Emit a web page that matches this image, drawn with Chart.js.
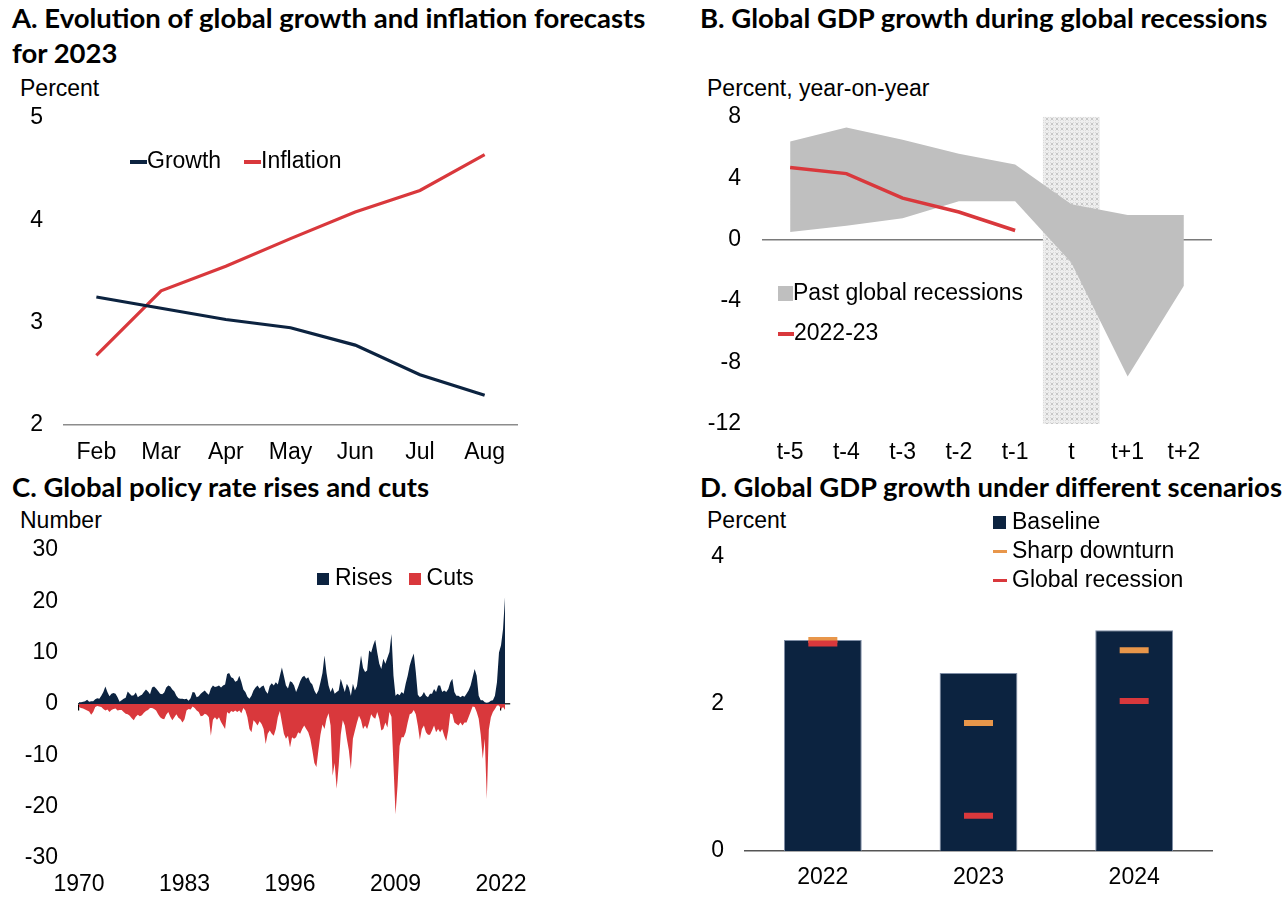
<!DOCTYPE html>
<html>
<head>
<meta charset="utf-8">
<script src="https://cdn.jsdelivr.net/npm/chart.js@4.4.1/dist/chart.umd.min.js"></script>
<style>
  body { margin: 0; width: 1288px; height: 904px; background: #fff; position: relative; overflow: hidden;
         font-family: "Liberation Sans", Arial, sans-serif; color: #000; }
  .title { position: absolute; font-family: Lato, "Open Sans", sans-serif; font-weight: bold; font-size: 27.5px; line-height: 35px; white-space: nowrap; }
  .unit { position: absolute; font-size: 23px; line-height: 24px; white-space: nowrap; }
  .legend { position: absolute; font-size: 23px; line-height: 24px; white-space: nowrap; }
  .sw { display: inline-block; vertical-align: middle; }
  canvas { position: absolute; }
</style>
</head>
<body>
<div class="title" style="left:12px; top:0px;">A. Evolution of global growth and inflation forecasts<br>for 2023</div>
<div class="title" style="left:700px; top:0px;">B. Global GDP growth during global recessions</div>
<div class="title" style="left:12px; top:469px;">C. Global policy rate rises and cuts</div>
<div class="title" style="left:700px; top:469px;">D. Global GDP growth under different scenarios</div>

<div class="unit" style="left:20px; top:76px;">Percent</div>
<div class="unit" style="left:707px; top:76px;">Percent, year-on-year</div>
<div class="unit" style="left:20px; top:508px;">Number</div>
<div class="unit" style="left:707px; top:508px;">Percent</div>

<canvas id="chartA" width="540" height="397" style="left:0px; top:83px;"></canvas>
<canvas id="chartB" width="545" height="398" style="left:680px; top:82px;"></canvas>
<canvas id="chartC" width="540" height="389" style="left:0px; top:515px;"></canvas>
<canvas id="chartD" width="545" height="382" style="left:680px; top:522px;"></canvas>

<!-- legends -->
<div class="legend" style="left:130px; top:148px;"><span class="sw" style="width:17px;height:4px;background:#0C2340;"></span>Growth</div>
<div class="legend" style="left:244px; top:148px;"><span class="sw" style="width:17px;height:4px;background:#D9383C;"></span>Inflation</div>

<div class="legend" style="left:778px; top:280px;"><span class="sw" style="width:15px;height:15px;background:#BFBFBF;"></span>Past global recessions</div>
<div class="legend" style="left:778px; top:320px;"><span class="sw" style="width:16px;height:4px;background:#D9383C;"></span>2022-23</div>

<div class="legend" style="left:317px; top:565px;"><span class="sw" style="width:12px;height:12px;background:#0C2340;margin-right:6px;"></span>Rises<span class="sw" style="width:12px;height:12px;background:#D9383C;margin:0 6px 0 16px;"></span>Cuts</div>

<div class="legend" style="left:993px; top:509px;"><span class="sw" style="width:13px;height:13px;background:#0C2340;margin-right:6px;"></span>Baseline</div>
<div class="legend" style="left:993px; top:538px;"><span class="sw" style="width:14px;height:3px;background:#E8964A;margin-right:5px;"></span>Sharp downturn</div>
<div class="legend" style="left:993px; top:567px;"><span class="sw" style="width:14px;height:3px;background:#D9383C;margin-right:5px;"></span>Global recession</div>

<script>
// ---- data ----
// A: forecasts for 2023, by month of forecast
const monthsA = ['Feb', 'Mar', 'Apr', 'May', 'Jun', 'Jul', 'Aug'];
const growthA = [3.25, 3.14, 3.03, 2.95, 2.78, 2.49, 2.29];
const inflationA = [2.68, 3.31, 3.55, 3.82, 4.08, 4.29, 4.64];

// B: global GDP growth around global recessions
const periodsB = ['t-5', 't-4', 't-3', 't-2', 't-1', 't', 't+1', 't+2'];
const pastHighB = [6.4, 7.3, 6.5, 5.6, 4.9, 2.3, 1.6, 1.6];
const pastLowB = [0.5, 0.9, 1.4, 2.5, 2.5, -1.5, -8.9, -3.0];
const recentB = [4.7, 4.3, 2.7, 1.8, 0.6, null, null, null];
const recessionYearB = [null, null, null, null, null, [-12, 8], null, null];

// C: number of policy rate rises and cuts, quarterly from 1970Q1
const startYearC = 1970;
const risesC = [
  0.3, 0.3, 0.4, 0.5,   0.8, 0.4, 0.5, 0.5,   0.9, 1.1, 1.0, 1.6,   2.3, 3.4, 2.3, 1.5,   // 1970-73
  2.0, 2.1, 2.0, 1.3,   0.4, 0.7, 1.0, 1.2,   2.4, 2.0, 1.6, 1.7,   2.2, 1.3, 1.6, 1.8,   // 1974-77
  2.3, 2.8, 2.4, 1.9,   3.2, 3.4, 3.0, 2.5,   2.0, 1.9, 2.2, 3.2,   3.6, 3.4, 2.8, 2.4,   // 1978-81
  1.6, 1.1, 1.0, 1.0,   0.9, 1.0, 0.6, 1.1,   2.3, 2.2, 1.3, 1.5,   2.0, 2.3, 2.6, 2.1,   // 1982-85
  1.8, 3.0, 3.6, 3.3,   3.4, 3.6, 3.2, 3.6,   3.8, 5.8, 6.0, 5.2,   5.0, 4.3, 4.5, 5.5,   // 1986-89
  4.3, 2.8, 2.3, 1.4,   1.0, 1.6, 2.6, 3.2,   3.6, 3.0, 3.4, 3.6,   2.5, 2.0, 3.5, 4.0,   // 1990-93
  3.6, 4.2, 3.8, 5.5,   7.1, 5.4, 3.6, 3.0,   4.4, 4.2, 3.6, 2.3,   3.3, 4.4, 5.2, 5.5,   // 1994-97
  4.9, 5.2, 4.2, 3.8,   2.6, 1.9, 2.6, 4.2,   6.0, 9.4, 6.0, 3.6,   2.3, 3.2, 2.0, 2.3,   // 1998-01
  2.6, 4.9, 3.6, 2.3,   3.9, 3.2, 1.6, 3.9,   2.6, 3.5, 6.5, 9.4,   7.0, 6.2, 6.5, 10.4,  // 2002-05
  10.0, 11.4, 12.5, 10.0, 7.8, 6.8, 8.8, 7.8, 9.0, 10.1, 13.6, 5.5, 1.6, 2.0, 1.7, 2.3,   // 2006-09
  2.0, 3.9, 5.5, 7.5,   8.8, 9.8, 6.2, 1.8,   1.3, 1.6, 2.3, 1.6,   1.3, 2.0, 2.0, 2.9,   // 2010-13
  2.3, 3.6, 3.6, 2.3,   2.6, 2.3, 2.9, 4.2,   4.9, 2.3, 1.6, 1.6,   1.3, 1.6, 1.4, 2.0,   // 2014-17
  2.6, 3.6, 5.2, 6.8,   5.5, 1.6, 0.7, 0.7,   0.3, 0.2, 0.3, 0.6,   0.7, 1.6, 4.2, 10.0,  // 2018-21
  11.4, 14.6, 21.0                                                                       // 2022
];
const cutsC = [
  -0.6, -0.8, -0.9, -1.1,  -1.3, -1.5, -2.1, -1.6,  -0.6, -0.4, -0.5, -0.6,  -1.0, -1.3, -1.1, -1.6,   // 1970-73
  -1.2, -1.0, -0.9, -1.3,  -1.2, -1.2, -1.6, -1.9,  -2.0, -2.3, -2.8, -3.2,  -2.5, -2.1, -2.4, -2.2,   // 1974-77
  -1.7, -1.4, -1.2, -0.8,  -0.8, -1.0, -1.3, -2.0,  -2.6, -2.9, -3.0, -2.1,  -1.6, -2.5, -3.2, -2.6,   // 1978-81
  -2.0, -2.7, -3.0, -3.6,  -3.0, -1.3, -1.0, -1.1,  -0.5, -0.8, -1.3, -1.6,  -2.4, -2.3, -1.9, -2.1,   // 1982-85
  -2.6, -6.2, -3.1, -2.6,  -3.1, -2.6, -3.5, -4.2,  -4.9, -1.6, -1.9, -1.4,  -1.6, -1.3, -1.6, -1.3,   // 1986-89
  -1.8, -0.8, -1.3, -2.6,  -4.9, -5.5, -3.2, -3.6,  -4.2, -3.4, -3.9, -4.9,  -7.8, -5.8, -5.2, -5.8,   // 1990-93
  -6.2, -4.9, -2.6, -1.4,  -3.6, -5.8, -6.8, -6.2,  -8.5, -6.5, -6.8, -6.5,  -5.5, -5.8, -4.9, -4.2,   // 1994-97
  -4.9, -5.5, -6.8, -9.0,  -11.5, -12.3, -9.0, -6.0, -4.0, -4.9, -2.9, -1.8, -4.2, -14.0, -11.5, -16.5, // 1998-01
  -12.0, -6.0, -3.2, -4.2, -6.8, -9.0, -12.7, -6.8, -5.2, -3.6, -2.3, -3.2,  -4.9, -4.2, -4.9, -3.6,   // 2002-05
  -2.0, -2.6, -2.9, -1.6,  -2.9, -5.2, -4.9, -3.6,  -4.6, -1.6, -2.5, -12.0, -21.5, -16.0, -8.2, -6.5, // 2006-09
  -6.5, -5.5, -3.6, -2.0,  -1.8, -1.2, -2.0, -4.2,  -7.0, -4.9, -4.2, -5.5,  -6.0, -6.0, -5.2, -4.2,   // 2010-13
  -5.5, -4.9, -5.5, -4.9,  -6.2, -7.2, -5.2, -1.8,  -2.0, -3.6, -3.9, -4.2,  -3.6, -4.2, -3.6, -3.6,   // 2014-17
  -2.6, -1.6, -0.5, -0.6,  -1.6, -2.9, -6.0, -10.7, -6.8, -18.5, -5.0, -2.6, -1.6, -1.0, -0.3, -0.3,   // 2018-21
  -1.0, -0.6, -1.2                                                                                       // 2022
];
const yearTicksC = [1970, 1983, 1996, 2009, 2022];

// D: global GDP growth under scenarios
const yearsD = ['2022', '2023', '2024'];
const baselineD = [2.87, 2.42, 3.0];
const sharpDownturnD = [2.87, 1.74, 2.73];
const globalRecessionD = [2.82, 0.48, 2.04];

// ---- style ----
const NAVY = '#0C2340';
const RED = '#D9383C';
const ORANGE = '#E8964A';
const GRAY = '#BFBFBF';

Chart.defaults.font.family = "'Liberation Sans', Arial, sans-serif";
Chart.defaults.font.size = 23;
Chart.defaults.color = '#000';
Chart.defaults.animation = false;
Chart.defaults.plugins.legend.display = false;
Chart.defaults.plugins.tooltip.enabled = false;

const noGrid = { display: false, drawTicks: false };

function yAxis(min, max, step, width) {
  return {
    min: min, max: max,
    ticks: { stepSize: step, padding: 21 },
    grid: noGrid,
    border: { display: false },
    afterFit: (s) => { s.width = width; }
  };
}

// A
new Chart(document.getElementById('chartA'), {
  type: 'line',
  data: {
    labels: monthsA,
    datasets: [
      { data: growthA, borderColor: NAVY, borderWidth: 3.2, pointRadius: 0, tension: 0 },
      { data: inflationA, borderColor: RED, borderWidth: 3.2, pointRadius: 0, tension: 0 }
    ]
  },
  options: {
    responsive: false,
    layout: { padding: { top: 0, right: 23, left: 0, bottom: 0 } },
    scales: {
      x: {
        offset: true,
        grid: noGrid,
        border: { display: true, color: '#8c8c8c', width: 1.5 },
        ticks: { padding: 14, maxRotation: 0, autoSkip: false },
        afterFit: (s) => { s.height = 55; }
      },
      y: yAxis(2, 5, 1, 64)
    }
  }
});

// B
function hatchPattern() {
  const c = document.createElement('canvas');
  c.width = 5; c.height = 5;
  const g = c.getContext('2d');
  g.fillStyle = '#eeeeee';
  g.fillRect(0, 0, 5, 5);
  g.strokeStyle = '#bdbdbd';
  g.lineWidth = 0.8;
  g.beginPath();
  g.moveTo(0.5, 0.5); g.lineTo(3.5, 3.5);
  g.moveTo(3.5, 0.5); g.lineTo(0.5, 3.5);
  g.stroke();
  return g.createPattern(c, 'repeat');
}

new Chart(document.getElementById('chartB'), {
  type: 'bar',
  data: {
    labels: periodsB,
    datasets: [
      { type: 'bar', data: recessionYearB, backgroundColor: hatchPattern(), barPercentage: 1, categoryPercentage: 1, order: 3 },
      { type: 'line', data: pastHighB, fill: '+1', backgroundColor: GRAY, borderColor: 'transparent', borderWidth: 0, pointRadius: 0, tension: 0, order: 2 },
      { type: 'line', data: pastLowB, fill: false, borderColor: 'transparent', borderWidth: 0, pointRadius: 0, tension: 0, order: 2 },
      { type: 'line', data: recentB, borderColor: RED, borderWidth: 3.5, pointRadius: 0, tension: 0, order: 1 }
    ]
  },
  options: {
    responsive: false,
    layout: { padding: { top: 0, right: 13, left: 0, bottom: 0 } },
    scales: {
      x: {
        grid: noGrid,
        border: { display: false },
        ticks: { padding: 15, maxRotation: 0, autoSkip: false },
        afterFit: (s) => { s.height = 56; }
      },
      y: {
        min: -12, max: 8,
        ticks: { stepSize: 4, padding: 21 },
        grid: {
          drawTicks: false,
          lineWidth: 1.5,
          color: (ctx) => (ctx.tick && ctx.tick.value === 0 ? '#7a7a7a' : 'transparent')
        },
        border: { display: false },
        afterFit: (s) => { s.width = 82; }
      }
    }
  }
});

// C
const pointsRises = risesC.map((v, i) => ({ x: startYearC + i / 4, y: v }));
const pointsCuts = cutsC.map((v, i) => ({ x: startYearC + i / 4, y: v }));

new Chart(document.getElementById('chartC'), {
  type: 'line',
  data: {
    datasets: [
      { data: pointsRises, fill: 'origin', backgroundColor: NAVY, borderColor: 'transparent', borderWidth: 0, pointRadius: 0, tension: 0, order: 1 },
      { data: pointsCuts, fill: 'origin', backgroundColor: RED, borderColor: 'transparent', borderWidth: 0, pointRadius: 0, tension: 0, order: 2 }
    ]
  },
  options: {
    responsive: false,
    layout: { padding: { top: 0, right: 21, left: 0, bottom: 0 } },
    scales: {
      x: {
        type: 'linear', min: 1970, max: 2023,
        grid: noGrid,
        border: { display: false },
        afterBuildTicks: (s) => { s.ticks = yearTicksC.map(v => ({ value: v })); },
        ticks: { padding: 13, maxRotation: 0, callback: (v) => String(v) },
        afterFit: (s) => { s.height = 46; }
      },
      x2: {
        type: 'linear', min: 1970, max: 2023,
        position: { y: 0 },
        afterBuildTicks: (s) => { s.ticks = yearTicksC.map(v => ({ value: v })); },
        ticks: { display: false },
        grid: { drawOnChartArea: false, drawTicks: true, tickLength: 6, color: '#000', lineWidth: 1.2 },
        border: { display: true, color: '#333', width: 1.5 }
      },
      y: yAxis(-30, 30, 10, 79)
    }
  }
});

// D
new Chart(document.getElementById('chartD'), {
  type: 'bar',
  data: {
    labels: yearsD,
    datasets: [
      { type: 'line', data: globalRecessionD, showLine: false, pointStyle: 'line', pointRadius: 14.5,
        pointBorderWidth: 6, pointBorderColor: RED, borderColor: RED, order: 0 },
      { type: 'line', data: sharpDownturnD, showLine: false, pointStyle: 'line', pointRadius: 14.5,
        pointBorderWidth: 6, pointBorderColor: ORANGE, borderColor: ORANGE, order: 1 },
      { type: 'bar', data: baselineD, backgroundColor: NAVY, borderColor: '#7f8ea6', borderWidth: 1,
        barPercentage: 0.5, categoryPercentage: 1, order: 2 }
    ]
  },
  options: {
    responsive: false,
    layout: { autoPadding: false, padding: { top: 0, right: 13, left: 0, bottom: 0 } },
    scales: {
      x: {
        grid: noGrid,
        border: { display: true, color: '#555', width: 1.5 },
        ticks: { padding: 13, maxRotation: 0 },
        afterFit: (s) => { s.height = 53; }
      },
      y: yAxis(0, 4, 2, 65)
    }
  }
});
</script>
</body>
</html>
